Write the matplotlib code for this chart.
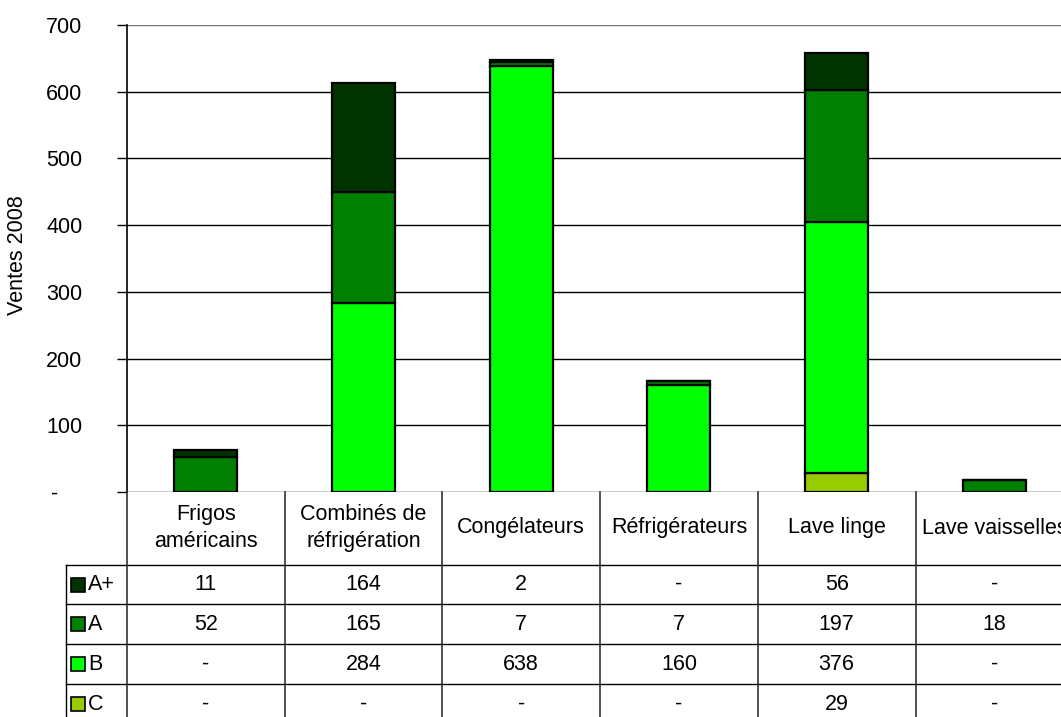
import numpy as np
import matplotlib.pyplot as plt

categories = ["Frigos\naméricains", "Combinés de\nréfrigération", "Congélateurs",
              "Réfrigérateurs", "Lave linge", "Lave vaisselles"]
series_names = ["A+", "A", "B", "C"]
a_plus = [11, 164, 2, 0, 56, 0]
a = [52, 165, 7, 7, 197, 18]
b = [0, 284, 638, 160, 376, 0]
c = [0, 0, 0, 0, 29, 0]
colors = {"A+": "#003300", "A": "#008000", "B": "#00FF00", "C": "#99CC00"}
yticks = [0, 100, 200, 300, 400, 500, 600, 700]

plt.rcParams["font.family"] = ["Liberation Sans", "DejaVu Sans"]
fs = 15.5

W, H = 1061, 717
fig = plt.figure(figsize=(W / 100, H / 100), dpi=100)

colw = 157.7
left, top, base = 127, 25, 492
ax = fig.add_axes([left / W, (H - base) / H, 6 * colw / W, (base - top) / H])

x = np.arange(len(categories)) + 0.5
data = {"A+": a_plus, "A": a, "B": b, "C": c}
bottom = np.zeros(len(categories))
for name in ["C", "B", "A", "A+"]:
    vals = np.array(data[name], dtype=float)
    ax.bar(x, vals, 0.4, bottom=bottom, color=colors[name], edgecolor="black",
           linewidth=1.6, zorder=3)
    bottom += vals

ax.set_xlim(0, 6)
ax.set_ylim(0, 700)
ax.set_yticks(yticks)
ax.set_yticklabels(["-    "] + [str(t) for t in yticks[1:]], fontsize=fs)
ax.tick_params(axis="y", length=7, width=1, pad=25, colors="black")
ax.set_xticks([])
for t in yticks:
    ax.axhline(t, color="#777777" if t == 700 else "black", lw=1, zorder=1)
ax.spines["top"].set_visible(False)
ax.spines["right"].set_visible(False)
ax.spines["bottom"].set_visible(False)
ax.spines["left"].set_linewidth(1.2)

fig.text(18 / W, 1 - 255 / H, "Ventes 2008", rotation=90, ha="center", va="center",
         fontsize=fs)

# data table below the chart
tab = fig.add_axes([left / W, (H - 724) / H, 6 * colw / W, (724 - base) / H])
tab.set_xlim(0, 6)
tab.set_ylim(724, base)
tab.axis("off")
row_lines = [565, 604, 644, 684]
lab_x = -(left - 66) / colw
for y in row_lines:
    tab.plot([lab_x, 6], [y, y], color="black", lw=1, clip_on=False)
for i in range(7):
    tab.plot([i, i], [base, 724], color="#333333", lw=1.2, clip_on=False)
tab.plot([lab_x, lab_x], [565, 724], color="black", lw=1, clip_on=False)

for i, cat in enumerate(categories):
    tab.text(i + 0.5, 528, cat, ha="center", va="center", fontsize=fs,
             linespacing=1.35, clip_on=False)

for r, name in enumerate(series_names):
    yc = (row_lines[r] + (row_lines[r + 1] if r + 1 < len(row_lines) else 724)) / 2
    sq = (85 - 71) / colw
    tab.add_patch(plt.Rectangle((lab_x + 5 / colw, yc - 7), sq, 14,
                                facecolor=colors[name], edgecolor="black", lw=1.2,
                                clip_on=False))
    tab.text(lab_x + 22 / colw, yc, name, ha="left", va="center", fontsize=fs,
             clip_on=False)
    for i, v in enumerate(data[name]):
        tab.text(i + 0.5, yc, str(v) if v else "-", ha="center", va="center",
                 fontsize=fs, clip_on=False)

fig.savefig("out.png", dpi=100)
